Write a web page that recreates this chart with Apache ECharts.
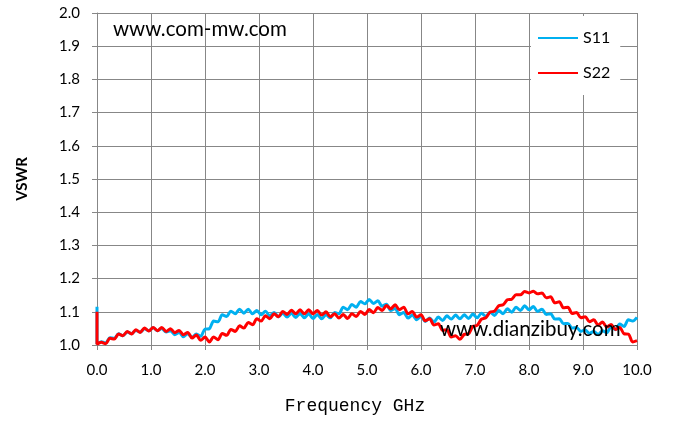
<!DOCTYPE html>
<html>
<head>
<meta charset="utf-8">
<script src="https://cdn.jsdelivr.net/npm/echarts@6/dist/echarts.min.js"></script>
<style>html,body{margin:0;padding:0;background:#fff}#c{width:674px;height:423px}</style>
</head>
<body>
<div id="c"></div>
<script>
// Sweep: 0 to 10 GHz, 0.08 GHz step (126 samples), plus the start spike at 0 GHz
const freqStep = 0.08;
const sampleCount = 126;
const s11Start = 1.115;
const s22Start = 1.100;
const xTicks = ['0.0','1.0','2.0','3.0','4.0','5.0','6.0','7.0','8.0','9.0','10.0'];

const s11 = [
1.003,1.010,1.006,1.022,1.020,1.034,1.028,1.039,1.034,1.044,
1.039,1.049,1.043,1.052,1.043,1.050,1.039,1.043,1.031,1.038,
1.025,1.034,1.023,1.033,1.026,1.048,1.049,1.072,1.070,1.091,
1.086,1.102,1.094,1.108,1.096,1.108,1.094,1.104,1.091,1.102,
1.088,1.098,1.085,1.096,1.084,1.096,1.083,1.095,1.082,1.094,
1.080,1.092,1.079,1.091,1.082,1.098,1.094,1.114,1.106,1.122,
1.114,1.131,1.124,1.137,1.125,1.133,1.117,1.123,1.104,1.110,
1.091,1.098,1.081,1.090,1.076,1.086,1.071,1.081,1.069,1.084,
1.074,1.088,1.078,1.090,1.079,1.091,1.080,1.093,1.082,1.096,
1.086,1.099,1.089,1.104,1.094,1.109,1.099,1.114,1.104,1.118,
1.106,1.116,1.101,1.108,1.092,1.094,1.078,1.079,1.064,1.065,
1.051,1.053,1.041,1.045,1.035,1.041,1.031,1.043,1.037,1.055,
1.046,1.063,1.056,1.076,1.072,1.083
];

const s22 = [
1.002,1.008,1.004,1.020,1.018,1.033,1.028,1.041,1.033,1.046,
1.038,1.051,1.042,1.053,1.043,1.053,1.041,1.049,1.037,1.044,
1.031,1.038,1.021,1.030,1.014,1.024,1.009,1.024,1.016,1.035,
1.029,1.047,1.041,1.058,1.051,1.068,1.061,1.079,1.072,1.088,
1.079,1.094,1.085,1.101,1.092,1.105,1.094,1.106,1.094,1.106,
1.094,1.104,1.090,1.100,1.085,1.094,1.081,1.092,1.080,1.094,
1.086,1.101,1.092,1.107,1.097,1.113,1.104,1.119,1.109,1.121,
1.106,1.114,1.094,1.101,1.084,1.091,1.073,1.079,1.060,1.064,
1.044,1.046,1.024,1.028,1.017,1.032,1.034,1.056,1.059,1.078,
1.082,1.099,1.102,1.118,1.121,1.136,1.138,1.151,1.151,1.161,
1.157,1.162,1.154,1.157,1.142,1.145,1.127,1.130,1.112,1.114,
1.095,1.098,1.082,1.085,1.070,1.076,1.060,1.069,1.054,1.062,
1.047,1.053,1.034,1.033,1.009,1.013
];

const freqGHz = Array.from({length: sampleCount}, (_, i) => +(i * freqStep).toFixed(2));
const s11Data = [[0, s11Start]].concat(freqGHz.map((f, i) => [f, s11[i]]));
const s22Data = [[0, s22Start]].concat(freqGHz.map((f, i) => [f, s22[i]]));

const chart = echarts.init(document.getElementById('c'), null, {renderer: 'canvas'});
const gridColor = '#878787';
const fontFam = 'Lato, "Open Sans", sans-serif';

chart.setOption({
  animation: false,
  backgroundColor: '#ffffff',
  grid: {left: 97, right: 37, top: 13, bottom: 78, containLabel: false},
  xAxis: {
    type: 'value', min: 0, max: 10, interval: 1,
    name: 'Frequency GHz', nameLocation: 'middle', nameGap: 52,
    nameTextStyle: {fontFamily: '"Liberation Mono", monospace', fontSize: 18, color: '#000', padding: [0, 24, 0, 0]},
    axisLine: {show: true, lineStyle: {color: gridColor, width: 1}},
    axisTick: {show: true, length: 5, inside: false, lineStyle: {color: gridColor}},
    axisLabel: {margin: 18, fontSize: 15, color: '#000', fontFamily: fontFam,
      formatter: v => xTicks[Math.round(v)]},
    splitLine: {show: true, lineStyle: {color: gridColor, width: 1}}
  },
  yAxis: {
    type: 'value', min: 1.0, max: 2.0, interval: 0.1,
    name: 'VSWR', nameLocation: 'middle', nameGap: 67, nameRotate: 90,
    nameTextStyle: {fontFamily: fontFam, fontSize: 15, fontWeight: 'bold', color: '#000'},
    axisLine: {show: true, lineStyle: {color: gridColor, width: 1}},
    axisTick: {show: true, length: 5, lineStyle: {color: gridColor}},
    axisLabel: {margin: 17, fontSize: 15, color: '#000', fontFamily: fontFam,
      formatter: v => v.toFixed(1)},
    splitLine: {show: true, lineStyle: {color: gridColor, width: 1}}
  },
  legend: {
    show: true, orient: 'vertical', left: 531, top: 16,
    padding: [14, 10, 14, 7],
    backgroundColor: '#ffffff', borderWidth: 0,
    icon: 'rect',
    itemWidth: 40, itemHeight: 2, itemGap: 19,
    textStyle: {fontFamily: fontFam, fontSize: 16, color: '#000', lineHeight: 16},
    data: ['S11', 'S22']
  },
  graphic: [
    {type: 'text', left: 113, top: 19, z: 100,
     style: {text: 'www.com-mw.com', font: '20.5px Lato, sans-serif', fill: '#000'}},
    {type: 'text', left: 440, top: 319, z: 100,
     style: {text: 'www.dianzibuy.com', font: '20.5px Lato, sans-serif', fill: '#000'}}
  ],
  series: [
    {name: 'S11', type: 'line', data: s11Data, symbol: 'none', showSymbol: false, smooth: 0.3,
     lineStyle: {color: '#00B0F0', width: 3}, itemStyle: {color: '#00B0F0'}, z: 3},
    {name: 'S22', type: 'line', data: s22Data, symbol: 'none', showSymbol: false, smooth: 0.3,
     lineStyle: {color: '#FF0000', width: 3}, itemStyle: {color: '#FF0000'}, z: 4}
  ]
});
</script>
</body>
</html>
